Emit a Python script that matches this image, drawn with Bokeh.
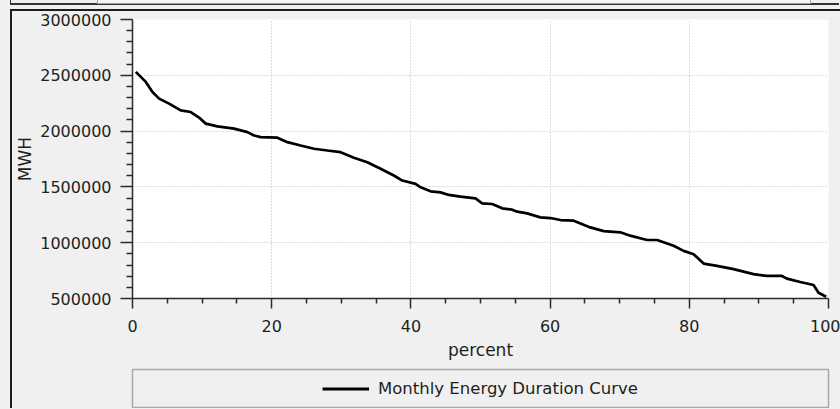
from bokeh.plotting import figure
from bokeh.models import (Range1d, FixedTicker, BasicTickFormatter, Legend,
                          LegendItem, GlobalInlineStyleSheet)
from bokeh.layouts import column
from bokeh.embed import file_html
from bokeh.resources import INLINE

# ---- data ----
percent = [0.47, 1.91, 2.87, 3.82, 5.25, 6.93, 8.37, 9.56, 10.52, 12.2,
           14.59, 16.51, 17.46, 18.42, 20.82, 22.25, 24.16, 26.07, 27.99, 29.9,
           31.81, 33.74, 35.64, 37.55, 38.76, 40.67, 41.39, 42.83, 44.26, 45.45,
           47.13, 49.28, 50.24, 51.68, 53.11, 54.55, 55.27, 56.7, 58.61, 60.05,
           61.48, 63.39, 65.78, 67.7, 70.09, 71.52, 73.93, 75.37, 77.75, 79.18,
           80.62, 82.06, 83.98, 86.36, 89.23, 91.16, 93.31, 94.03, 95.94, 97.85,
           98.57, 99.67]
mwh = [2531000, 2441000, 2351000, 2291000, 2246000, 2186000, 2171000, 2121000, 2067000, 2042000,
       2022000, 1991000, 1961000, 1946000, 1941000, 1901000, 1871000, 1842000, 1826000, 1811000,
       1761000, 1721000, 1662000, 1602000, 1557000, 1527000, 1496000, 1460000, 1451000, 1428000,
       1413000, 1397000, 1353000, 1347000, 1308000, 1296000, 1278000, 1263000, 1227000, 1221000,
       1203000, 1197000, 1137000, 1104000, 1093000, 1063000, 1024000, 1024000, 972000, 927000,
       897000, 813000, 792000, 763000, 718000, 702000, 702000, 678000, 648000, 621000,
       552000, 516000]

x_ticks = [0, 20, 40, 60, 80, 100]
x_minor_ticks = [5, 10, 15, 25, 30, 35, 45, 50, 55, 65, 70, 75, 85, 90, 95]
y_ticks = [500000, 1000000, 1500000, 2000000, 2500000, 3000000]
y_minor_ticks = [v for v in range(600000, 3000000, 100000) if v % 500000 != 0]

series_name = "Monthly Energy Duration Curve"
x_label = "percent"
y_label = "MWH"

BG = "#f0f0f0"
FONT = "DejaVu Sans"
TXT = "#1e1e1e"

# ---- main chart ----
p = figure(frame_width=696, frame_height=279,
           x_range=Range1d(0, 100), y_range=Range1d(500000, 3000000),
           output_backend="svg", toolbar_location=None,
           min_border_left=120, min_border_right=12,
           min_border_top=8, min_border_bottom=64,
           background_fill_color="white", border_fill_color=BG,
           outline_line_color=None)

p.line(percent, mwh, line_color="black", line_width=2.7)

p.xaxis.ticker = FixedTicker(ticks=x_ticks, minor_ticks=x_minor_ticks)
p.yaxis.ticker = FixedTicker(ticks=y_ticks, minor_ticks=y_minor_ticks)
p.yaxis.formatter = BasicTickFormatter(use_scientific=False)
p.xgrid.ticker = FixedTicker(ticks=x_ticks)
p.ygrid.ticker = FixedTicker(ticks=y_ticks)

for ax in (p.xaxis, p.yaxis):
    ax.axis_line_color = "#2a2a2a"
    ax.axis_line_width = 1.5
    ax.major_tick_line_color = "#2a2a2a"
    ax.minor_tick_line_color = "#2a2a2a"
    ax.major_tick_line_width = 1.5
    ax.minor_tick_line_width = 1.5
    ax.major_tick_in = 0
    ax.minor_tick_in = 0
    ax.major_label_text_font = FONT
    ax.major_label_text_font_size = "16px"
    ax.major_label_text_color = TXT
    ax.axis_label_text_font = FONT
    ax.axis_label_text_font_size = "17px"
    ax.axis_label_text_font_style = "normal"
    ax.axis_label_text_color = TXT

p.xaxis.major_tick_out = 10
p.xaxis.minor_tick_out = 5
p.xaxis.major_label_standoff = 11
p.xaxis.axis_label = x_label
p.xaxis.axis_label_standoff = 5

p.yaxis.major_tick_out = 12
p.yaxis.minor_tick_out = 6
p.yaxis.major_label_standoff = 9
p.yaxis.axis_label = y_label
p.yaxis.axis_label_standoff = 2

for g in (p.xgrid, p.ygrid):
    g.grid_line_color = "#bdbdbd"
    g.grid_line_dash = "1 2"
    g.grid_line_width = 1

# ---- legend strip (the series is out of this strip's range, only its legend shows) ----
p2 = figure(frame_width=696, frame_height=38,
            x_range=Range1d(0, 1), y_range=Range1d(0, 1),
            x_axis_type=None, y_axis_type=None,
            output_backend="svg", toolbar_location=None,
            min_border_left=120, min_border_right=12,
            min_border_top=7, min_border_bottom=1,
            background_fill_color=BG, border_fill_color=BG,
            outline_line_color="#a8a8a8", outline_line_width=1.5)
r2 = p2.line(percent, mwh, line_color="black", line_width=3)
legend = Legend(items=[LegendItem(label=series_name, renderers=[r2])],
                location="center", border_line_color=None,
                background_fill_alpha=0, glyph_width=47, glyph_height=18,
                label_standoff=9, padding=0, margin=0,
                label_text_font=FONT, label_text_font_size="16.5px",
                label_text_color=TXT)
p2.add_layout(legend)

page_css = """
body{background-color:#f0f0f0;}
body::before{content:"";position:absolute;left:10px;top:-10px;width:828px;height:13px;
  border-left:1.5px solid #333;border-bottom:2px solid #333;}
body::after{content:"";position:absolute;left:97px;top:-10px;width:712px;height:12px;
  border:1px solid #a0a0a0;background:#f6f6f6;}
"""

layout = column(p, p2, spacing=0,
                styles={"border-top": "2px solid #1c1c1c",
                        "border-left": "2px solid #1c1c1c",
                        "margin-top": "9px", "margin-left": "10px"},
                stylesheets=[GlobalInlineStyleSheet(css=page_css)])

open("out.html", "w").write(file_html(layout, INLINE))
